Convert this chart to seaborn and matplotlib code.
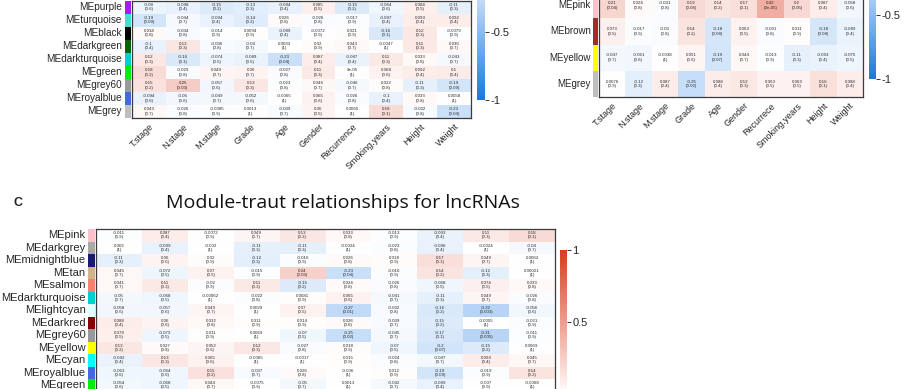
import numpy as np
import pandas as pd
import matplotlib
matplotlib.use("Agg")
import matplotlib.pyplot as plt
import seaborn as sns
from matplotlib.colors import LinearSegmentedColormap

# ---------------- data ----------------
traits_a = ["T.stage", "N.stage", "M.stage", "Grade", "Age", "Gender",
            "Recurrence", "Smoking.years", "Height", "Weight"]
traits_b = ["T.stage", "N.stage", "M.stage", "Grade", "Age", "Gender",
            "Recurrece", "Smoking.years", "Height", "Weight"]

modules_a = ["MEpurple", "MEturquoise", "MEblack", "MEdarkgreen", "MEdarkturquoise",
             "MEgreen", "MEgrey60", "MEroyalblue", "MEgrey"]
colors_a = ["#A020F0", "#40E0D0", "#000000", "#006400", "#00CED1",
            "#00EE00", "#999999", "#4169E1", "#BEBEBE"]
cor_a = [
    [-0.08, -0.098, -0.15, -0.13, -0.094, 0.085, -0.15, -0.064, 0.084, -0.11],
    [-0.19, -0.044, -0.094, -0.14, 0.026, -0.026, -0.017, -0.097, 0.093, 0.092],
    [0.034, -0.034, -0.014, 0.0094, -0.089, -0.0072, 0.021, -0.16, 0.12, -0.0079],
    [-0.1, 0.13, -0.036, -0.04, 0.0033, 0.02, 0.043, -0.0047, 0.11, 0.036],
    [0.12, -0.16, -0.074, -0.089, -0.23, 0.087, -0.087, 0.11, 0.033, -0.043],
    [0.18, -0.029, 0.049, 0.06, -0.027, 0.11, 9e-05, 0.068, 0.092, 0.1],
    [0.15, 0.25, -0.057, 0.13, -0.023, 0.046, -0.046, 0.022, -0.11, -0.19],
    [-0.094, -0.06, -0.049, -0.052, -0.0065, 0.065, -0.026, -0.1, 0.033, 0.0058],
    [0.043, -0.026, -0.0085, 0.0013, -0.039, 0.06, 0.0065, 0.18, -0.032, -0.23],
]
p_a = [
    [0.6, 0.4, 0.2, 0.3, 0.4, 0.5, 0.2, 0.6, 0.5, 0.3],
    [0.09, 0.7, 0.4, 0.2, 0.8, 0.8, 0.9, 0.4, 0.4, 0.4],
    [0.8, 0.8, 0.9, 0.9, 0.4, 0.9, 0.9, 0.1, 0.3, 0.9],
    [0.4, 0.3, 0.8, 0.7, 1, 0.9, 0.7, 1, 0.3, 0.7],
    [0.3, 0.1, 0.5, 0.5, 0.04, 0.4, 0.4, 0.3, 0.8, 0.7],
    [0.2, 0.8, 0.7, 0.7, 0.8, 0.3, 1, 0.6, 0.4, 0.4],
    [0.2, 0.03, 0.6, 0.3, 0.8, 0.7, 0.7, 0.8, 0.3, 0.09],
    [0.6, 0.6, 0.7, 0.6, 1, 0.6, 0.8, 0.4, 0.8, 1],
    [0.7, 0.8, 0.9, 1, 0.7, 0.5, 1, 0.1, 0.8, 0.04],
]

modules_b = ["MEpink", "MEbrown", "MEyellow", "MEgrey"]
colors_b = ["#FFC0CB", "#A52A2A", "#FFFF00", "#BEBEBE"]
cor_b = [
    [0.21, 0.024, -0.031, 0.19, 0.14, 0.17, 0.42, 0.2, 0.087, -0.058],
    [0.073, -0.017, -0.03, 0.14, -0.18, 0.063, -0.031, 0.011, -0.18, -0.089],
    [-0.047, -0.061, -0.0038, 0.051, -0.19, 0.044, -0.013, -0.11, -0.093, -0.075],
    [0.0076, -0.12, 0.087, -0.25, 0.088, 0.12, 0.063, 0.063, 0.16, 0.088],
]
p_b = [
    [0.04, 0.8, 0.8, 0.06, 0.2, 0.1, 2e-05, 0.05, 0.4, 0.6],
    [0.5, 0.9, 0.8, 0.2, 0.08, 0.5, 0.8, 0.9, 0.08, 0.4],
    [0.7, 0.6, 1, 0.6, 0.07, 0.7, 0.9, 0.3, 0.4, 0.5],
    [0.9, 0.3, 0.4, 0.02, 0.4, 0.3, 0.5, 0.5, 0.1, 0.4],
]

modules_c = ["MEpink", "MEdarkgrey", "MEmidnightblue", "MEtan", "MEsalmon",
             "MEdarkturquoise", "MElightcyan", "MEdarkred", "MEgrey60", "MEyellow",
             "MEcyan", "MEroyalblue", "MEgreen"]
colors_c = ["#FFC0CB", "#A9A9A9", "#191970", "#D2B48C", "#FA8072",
            "#00CED1", "#E0FFFF", "#8B0000", "#999999", "#FFFF00",
            "#00FFFF", "#4169E1", "#00EE00"]
cor_c = [
    [-0.011, 0.087, -0.0072, 0.049, 0.13, 0.033, -0.013, -0.093, 0.11, 0.18],
    [0.002, -0.099, -0.002, -0.11, -0.11, -0.0024, -0.023, -0.096, -0.0024, -0.04],
    [-0.11, 0.06, 0.02, -0.12, -0.016, 0.026, 0.018, 0.17, 0.049, 0.0062],
    [0.046, -0.072, 0.07, -0.015, 0.24, -0.23, -0.016, 0.14, -0.12, 0.00021],
    [0.041, 0.11, -0.02, 0.11, -0.15, 0.024, -0.026, -0.068, 0.074, 0.033],
    [-0.05, -0.068, -0.00062, -0.022, 0.0081, 0.065, -0.041, -0.11, 0.049, -0.026],
    [-0.058, -0.057, 0.049, 0.0029, 0.07, -0.27, -0.032, -0.16, -0.32, -0.056],
    [0.088, 0.06, 0.032, 0.011, 0.014, 0.026, -0.039, -0.15, -0.0055, -0.021],
    [0.079, -0.073, 0.011, 0.0069, -0.07, -0.25, -0.045, -0.17, -0.31, -0.011],
    [0.13, 0.027, 0.052, 0.12, -0.027, 0.018, -0.07, -0.2, -0.15, 0.0069],
    [-0.092, 0.13, 0.065, -0.0065, -0.0017, 0.015, -0.024, -0.047, 0.093, 0.045],
    [-0.063, -0.064, 0.15, -0.037, 0.026, -0.006, 0.012, -0.19, -0.019, 0.14],
    [-0.054, -0.068, 0.044, -0.0075, -0.05, 0.0013, -0.042, -0.099, -0.007, -0.0068],
]
p_c = [
    [0.9, 0.4, 0.9, 0.7, 0.2, 0.8, 0.9, 0.4, 0.3, 0.1],
    [1, 0.4, 1, 0.3, 0.3, 1, 0.8, 0.4, 1, 0.7],
    [0.3, 0.6, 0.9, 0.3, 0.9, 0.8, 0.9, 0.1, 0.7, 1],
    [0.7, 0.5, 0.5, 0.9, 0.03, 0.04, 0.9, 0.2, 0.3, 1],
    [0.7, 0.3, 0.9, 0.3, 0.2, 0.8, 0.8, 0.5, 0.5, 0.8],
    [0.7, 0.5, 1, 0.8, 0.9, 0.6, 0.7, 0.3, 0.7, 0.8],
    [0.6, 0.6, 0.7, 1, 0.5, 0.01, 0.8, 0.2, 0.003, 0.6],
    [0.4, 0.6, 0.8, 0.9, 0.9, 0.8, 0.7, 0.2, 1, 0.9],
    [0.5, 0.5, 0.9, 1, 0.5, 0.02, 0.7, 0.1, 0.005, 0.9],
    [0.2, 0.8, 0.6, 0.3, 0.8, 0.9, 0.5, 0.07, 0.2, 1],
    [0.4, 0.3, 0.6, 1, 1, 0.9, 0.8, 0.7, 0.4, 0.7],
    [0.6, 0.6, 0.2, 0.7, 0.8, 1, 0.9, 0.09, 0.9, 0.2],
    [0.6, 0.5, 0.7, 0.9, 0.7, 1, 0.7, 0.4, 0.9, 1],
]

cbar_ticks_a = [-1, -0.5]
cbar_ticks_b = [-1, -0.5]
cbar_ticks_c = [0.5, 1]

title_c = "Module-traut relationships for lncRNAs"

# ---------------- styling ----------------
sns.set_style("white")
plt.rcParams["font.family"] = ["Liberation Sans", "DejaVu Sans"]
plt.rcParams["axes.unicode_minus"] = False

W, H = 916, 389
fig = plt.figure(figsize=(W / 100, H / 100), dpi=100)

cmap = LinearSegmentedColormap.from_list("bwr_wgcna", ["#1A78E0", "#FFFFFF", "#DC3C1E"])


def px_axes(x0, top, w, h):
    return fig.add_axes([x0 / W, 1 - (top + h) / H, w / W, h / H])


def fmt_cells(cor, p):
    return np.array([[f"{c:.2g}\n({q:.1g})" for c, q in zip(rc, rp)]
                     for rc, rp in zip(cor, p)])


def panel(modules, colors, traits, cor, p, hm, strip, cb, cticks,
          ylab_size, ypad, show_x):
    ax = px_axes(*hm)
    cax = px_axes(*cb)
    df = pd.DataFrame(cor, index=modules, columns=traits)
    sns.heatmap(df, ax=ax, cmap=cmap, vmin=-1, vmax=1,
                annot=fmt_cells(cor, p), fmt="",
                annot_kws=dict(fontsize=3.2, color="#2a2a2a", linespacing=1.15),
                cbar=True, cbar_ax=cax,
                xticklabels=traits if show_x else False, yticklabels=modules)
    for s in ax.spines.values():
        s.set_visible(True)
        s.set_color("#3a3a3a")
        s.set_linewidth(0.9)
    ax.tick_params(axis="y", length=0, pad=ypad, labelsize=ylab_size)
    ax.set_yticklabels(modules, rotation=0, ha="right")
    if show_x:
        ax.tick_params(axis="x", length=0, pad=3, labelsize=6.5)
        ax.set_xticklabels(traits, rotation=45, ha="right", va="top",
                           rotation_mode="anchor")
    ax.set_xlabel("")
    ax.set_ylabel("")
    cbar = ax.collections[0].colorbar
    cbar.outline.set_visible(False)
    cbar.set_ticks(cticks)
    cbar.set_ticklabels([f"{t:g}" for t in cticks])
    cax.tick_params(length=3, width=0.7, labelsize=8, pad=1, color="#333333")
    # module colour strip
    sax = px_axes(*strip)
    n = len(modules)
    sax.barh(np.arange(n), 1, height=1.0, color=colors, linewidth=0)
    sax.set_ylim(n - 0.5, -0.5)
    sax.set_xlim(0, 1)
    sax.axis("off")
    return ax


# Panel A (top-left)
row_a = 13.05
panel(modules_a, colors_a, traits_a, cor_a, p_a,
      hm=(132, 118 - 9 * row_a, 339, 9 * row_a),
      strip=(125, 118 - 9 * row_a, 6, 9 * row_a),
      cb=(477, -172, 8, 272), cticks=cbar_ticks_a,
      ylab_size=7.2, ypad=7.5, show_x=True)

# Panel B (top-right)
row_b = 26.2
panel(modules_b, colors_b, traits_b, cor_b, p_b,
      hm=(599, 97 - 4 * row_b, 264, 4 * row_b),
      strip=(593, 97 - 4 * row_b, 5, 4 * row_b),
      cb=(869, -177, 7, 256), cticks=cbar_ticks_b,
      ylab_size=7.0, ypad=6, show_x=True)

# Panel C (bottom)
row_c = 12.5
panel(modules_c, colors_c, traits_a, cor_c, p_c,
      hm=(96, 229, 459, 13 * row_c),
      strip=(88, 229, 7, 13 * row_c),
      cb=(560, 250, 7, 288), cticks=cbar_ticks_c,
      ylab_size=8.0, ypad=7.5, show_x=False)

fig.text(18 / W, 1 - 203 / H, "C", fontsize=9, fontweight="bold",
         ha="center", va="center")
fig.text(343 / W, 1 - 203 / H, title_c, fontsize=14,
         family=["Open Sans", "DejaVu Sans"], ha="center", va="center",
         color="#111111")

fig.savefig("out.png", dpi=100, facecolor="white")
